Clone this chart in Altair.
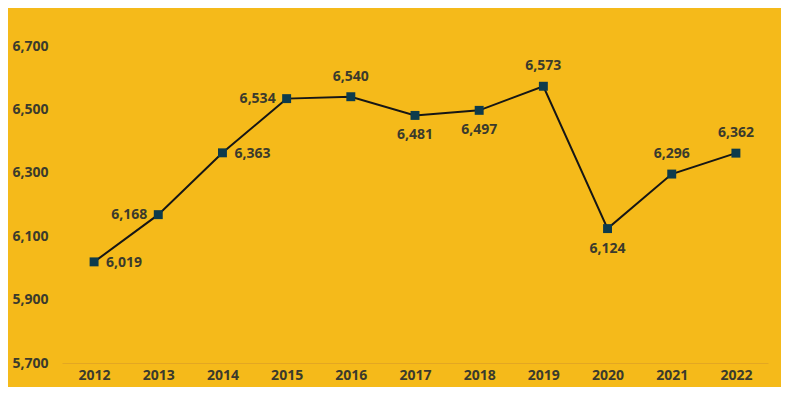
import altair as alt
import pandas as pd

years = ["2012", "2013", "2014", "2015", "2016", "2017", "2018", "2019", "2020", "2021", "2022"]
values = [6019, 6168, 6363, 6534, 6540, 6481, 6497, 6573, 6124, 6296, 6362]
label_pos = ["right", "left", "right", "left", "above", "below", "below", "above", "below", "above", "above"]

df = pd.DataFrame({"year": years, "value": values, "pos": label_pos})

BG = "#F5BA1A"
TXT = "#3B3A2C"
FONT = "Open Sans"

x = alt.X("year:N", sort=years, title=None,
          axis=alt.Axis(labelAngle=0, ticks=False, domainColor="#E3A722", domainWidth=1,
                        labelFont=FONT, labelFontSize=14, labelFontWeight="bold",
                        labelColor=TXT, labelPadding=5),
          scale=alt.Scale(paddingInner=0, paddingOuter=0.5))
y = alt.Y("value:Q", title=None,
          scale=alt.Scale(domain=[5700, 6700], nice=False, zero=False),
          axis=alt.Axis(values=[5700, 5900, 6100, 6300, 6500, 6700], format=",d",
                        domain=False, ticks=False, grid=False,
                        labelFont=FONT, labelFontSize=14, labelFontWeight="bold",
                        labelColor=TXT, labelPadding=14))

base = alt.Chart(df).encode(x=x, y=y)

line = base.mark_line(color="#161616", strokeWidth=2)
pts = base.mark_point(shape="square", filled=True, size=80, color="#0D3B4C", opacity=1)

def lab(pos, **kw):
    return base.transform_filter(alt.datum.pos == pos).mark_text(
        font=FONT, fontSize=14, fontWeight="bold", color=TXT, **kw
    ).encode(text=alt.Text("value:Q", format=",d"))

labels = [
    lab("right", align="left", dx=12, dy=1, baseline="middle"),
    lab("left", align="right", dx=-11, dy=0, baseline="middle"),
    lab("above", align="center", dy=-20, baseline="middle"),
    lab("below", align="center", dy=20, baseline="middle"),
]

chart = alt.layer(line, pts, *labels).properties(
    width=706, height=317, background=BG,
    padding={"left": 54, "top": 38, "right": 13, "bottom": 24},
    autosize=alt.AutoSizeParams(type="none"),
).configure_view(stroke=None)

chart.save("out.html", embed_options={"renderer": "svg", "actions": False})
